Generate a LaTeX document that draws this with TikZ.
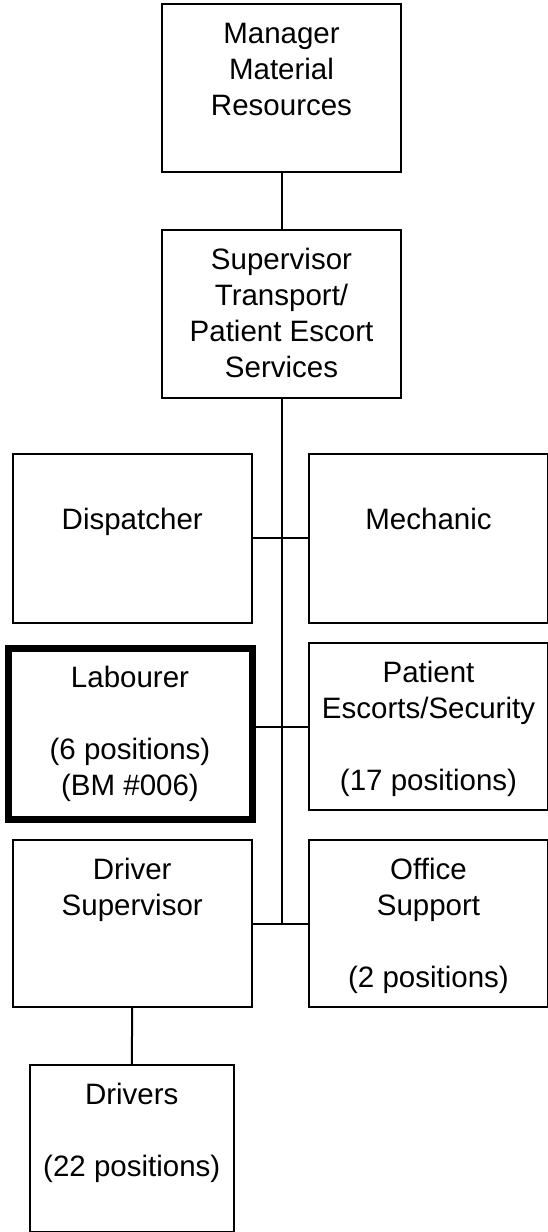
\documentclass[tikz,border=0pt]{standalone}
\usepackage{fontspec}
\setmainfont{Liberation Sans}
\newcommand{\posttext}[3]{\parbox[c][#2pt][t]{#1pt}{\centering\rule{0pt}{39pt}#3}}
\tikzset{
  post/.style={draw, line width=2pt, inner sep=0pt, anchor=north west,
    font=\fontsize{29.5}{36}\selectfont},
  keypost/.style={post, line width=7pt}
}
\begin{document}
\begin{tikzpicture}[x=1pt,y=-1pt,line width=2pt]
\useasboundingbox (0,0) rectangle (548,1232);
\node[post] (mgr) at (161,3) {\posttext{239}{168}{Manager\\Material\\Resources}};
\node[post] (sup) at (161,229) {\posttext{239}{168}{Supervisor\\Transport/\\Patient Escort\\Services}};
\node[post] (disp) at (11.5,453) {\posttext{239.5}{168.5}{\\Dispatcher}};
\node[post] (mech) at (308,453) {\posttext{239}{168.5}{\\Mechanic}};
\node[keypost] (lab) at (4.5,644.5) {\posttext{244}{171.5}{Labourer\\[36pt](6 positions)\\(BM \#006)}};
\node[post] (pat) at (308,642) {\posttext{239}{167}{Patient\\Escorts/Security\\[36pt](17 positions)}};
\node[post] (drvsup) at (11.5,839) {\posttext{239.5}{167}{Driver\\Supervisor}};
\node[post] (office) at (308,839) {\posttext{239}{167}{Office\\Support\\[36pt](2 positions)}};
\node[post] (drivers) at (29,1064) {\posttext{203.5}{167}{Drivers\\[36pt](22 positions)}};

\draw (mgr) -- (sup);
\draw (sup.south) -- (sup.south |- office.west);
\draw (disp.east) -- (mech.west);
\draw (pat.west) -- (pat.west -| lab.east);
\draw (drvsup.east) -- (office.west);
\draw (drvsup) -- (drivers);

\end{tikzpicture}
\end{document}
